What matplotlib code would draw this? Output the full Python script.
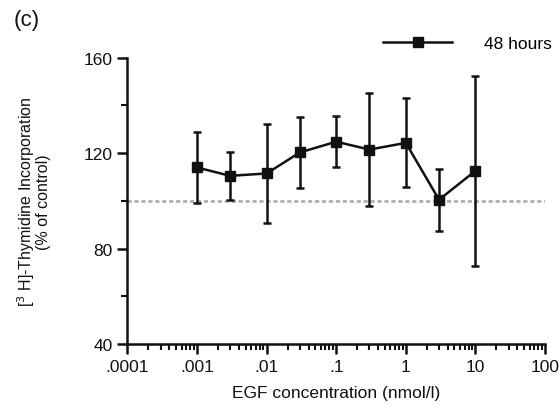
import matplotlib
matplotlib.use("Agg")
import matplotlib.pyplot as plt
from matplotlib.ticker import FixedLocator, FixedFormatter, LogLocator, NullFormatter
import numpy as np

plt.rcParams['font.family'] = ['Liberation Sans', 'DejaVu Sans']

# EGF dose response, 48 h
egf_conc = [0.001, 0.003, 0.01, 0.03, 0.1, 0.3, 1, 3, 10]
incorporation = [114, 110.5, 111.5, 120.3, 124.8, 121.5, 124.3, 100.5, 112.6]
sd = [14.8, 10.0, 20.8, 14.7, 10.8, 23.5, 18.6, 12.9, 39.8]

x_ticks = [0.0001, 0.001, 0.01, 0.1, 1, 10, 100]
x_ticklabels = [".0001", ".001", ".01", ".1", "1", "10", "100"]
y_ticks = [40, 80, 120, 160]
y_minor = [60, 100, 140]
control_level = 100

INK = '#111111'

fig = plt.figure(figsize=(5.59, 4.10), dpi=100)
ax = fig.add_axes([0.228, 0.158, 0.747, 0.699])

ax.axhline(control_level, color='#b0b0b0', lw=2.0, ls=(0, (1.5, 1)), zorder=1)

# error bars first, then the line so the legend shows only line + marker
ax.errorbar(egf_conc, incorporation, yerr=sd, fmt='none', ecolor=INK,
            elinewidth=1.8, capsize=3, capthick=1.8, zorder=2)
ax.plot(egf_conc, incorporation, 's-', color=INK, ms=7.5, lw=1.8,
        label='48 hours', zorder=3)

ax.set_xscale('log')
ax.set_xlim(0.0001, 100)
ax.set_ylim(40, 160)

ax.xaxis.set_major_locator(FixedLocator(x_ticks))
ax.xaxis.set_major_formatter(FixedFormatter(x_ticklabels))
ax.xaxis.set_minor_locator(LogLocator(base=10, subs=np.arange(2, 10)))
ax.xaxis.set_minor_formatter(NullFormatter())
ax.yaxis.set_major_locator(FixedLocator(y_ticks))
ax.yaxis.set_minor_locator(FixedLocator(y_minor))

for side in ['top', 'right']:
    ax.spines[side].set_visible(False)
for side in ['left', 'bottom']:
    ax.spines[side].set_linewidth(1.8)
    ax.spines[side].set_color(INK)

ax.tick_params(which='major', length=7, width=1.8, labelsize=12.5, colors=INK, pad=3.5)
ax.tick_params(which='minor', length=4, width=1.5, colors=INK)

ax.set_xlabel("EGF concentration (nmol/l)", fontsize=12.5, color=INK, labelpad=8)
ax.set_ylabel("[$^{3}$ H]-Thymidine Incorporation\n(% of control)", fontsize=11.5,
              color=INK, labelpad=24, linespacing=0.85)

ax.legend(loc='center right', bbox_to_anchor=(1.032, 1.051), frameon=False, fontsize=12.5,
          handlelength=4.0, handletextpad=1.8, borderaxespad=0, markerscale=0.9)

fig.text(0.025, 0.975, "(c)", fontsize=16, color=INK, va='top')

fig.savefig("out.png", dpi=100)
